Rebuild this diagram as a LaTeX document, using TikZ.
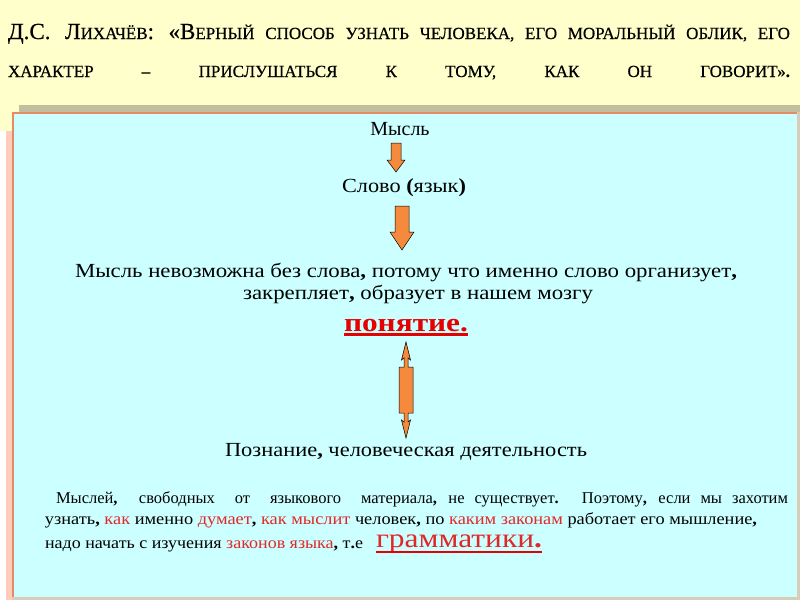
\documentclass[tikz,border=0pt]{standalone}
\usepackage{fontspec}
\setmainfont{Liberation Serif}
\newfontfamily\titlefont[FakeBold=0.5]{Liberation Serif}
\usepackage{graphicx}
\definecolor{ylw}{RGB}{255,255,204}
\definecolor{cyanbox}{RGB}{204,255,255}
\definecolor{graybar}{RGB}{192,192,160}
\definecolor{pinkstrip}{RGB}{255,204,187}
\definecolor{obord}{RGB}{230,140,100}
\definecolor{beige}{RGB}{215,205,185}
\definecolor{arr}{RGB}{245,138,60}
\definecolor{rd}{RGB}{230,0,0}
\definecolor{rd2}{RGB}{225,40,40}
\newcommand\bigc[1]{{\fontsize{23}{23}\selectfont #1}}
\newcommand\smc[1]{{\fontsize{17}{17}\selectfont #1}}
\newcommand\bc{\textbf{,}}
\newcommand\rt[1]{\textcolor{rd2}{#1}}
\begin{document}
\begin{tikzpicture}[x=1pt,y=-1pt,
  txt/.style={inner sep=0pt, outer sep=0pt, anchor=base west},
  ctr/.style={inner sep=0pt, outer sep=0pt, anchor=base},
  arrowshape/.style={fill=arr, draw=black, line width=0.5pt, line join=miter}]
\useasboundingbox (0,0) rectangle (800,600);
\fill[white] (0,0) rectangle (800,600);
\fill[ylw] (0,0) rectangle (800,131);
\fill[pinkstrip] (6,131) rectangle (12,600);
\fill[graybar] (19,105) rectangle (800,112);
\fill[beige] (12,112) rectangle (800,600);
\fill[cyanbox] (12,112) rectangle (797,597);
\draw[obord, line width=1.5pt] (12.75,597) -- (12.75,112.75) -- (797,112.75);
% title
\node[txt, font=\titlefont] (t1) at (8,39) {\makebox[782pt][s]{\bigc{Д.С. Л}\smc{ИХАЧЁВ}\bigc{: «В}\smc{ЕРНЫЙ СПОСОБ УЗНАТЬ ЧЕЛОВЕКА, ЕГО МОРАЛЬНЫЙ ОБЛИК, ЕГО}}};
\node[txt, font=\titlefont] (t2) at (8,77) {\makebox[782pt][s]{\smc{ХАРАКТЕР \textbf{–} ПРИСЛУШАТЬСЯ К ТОМУ, КАК ОН ГОВОРИТ»\textbf{.}}}};
% diagram
\node[ctr, font=\fontsize{20}{20}\selectfont] (mysl) at (400,135) {Мысль};
\node[txt, font=\fontsize{20}{20}\selectfont] (slovo) at (342,192) {\resizebox{124pt}{\height}{Слово \textbf{(}язык\textbf{)}}};
\node[txt, font=\fontsize{20}{20}\selectfont] (la) at (75,277) {\resizebox{662pt}{\height}{Мысль невозможна без слова\bc{} потому что именно слово организует\bc}};
\node[txt, font=\fontsize{20}{20}\selectfont] (lb) at (243,299) {\resizebox{350pt}{\height}{закрепляет\bc{} образует в нашем мозгу}};
\node[txt, font=\fontsize{26}{26}\selectfont\bfseries, text=rd] (pon) at (344,331) {\resizebox{124pt}{\height}{понятие.}};
\draw[rd, line width=2.5pt] ([yshift=-3.5pt]pon.base west) -- ([yshift=-3.5pt]pon.base east);
\node[txt, font=\fontsize{20}{20}\selectfont] (poz) at (225,456) {\resizebox{362pt}{\height}{Познание\bc{} человеческая деятельность}};
% arrows
\draw[arrowshape] (391,143) -- (401,143) -- (401,160) -- (405,160) -- (396,172) -- (387,160) -- (391,160) -- cycle;
\draw[arrowshape] (395,206) -- (409,206) -- (409,232) -- (414,232) -- (402,250) -- (390,232) -- (395,232) -- cycle;
\draw[arrowshape] (406,342) -- (410.5,360) -- (408,358) -- (408,367) -- (413,367) -- (413,413) -- (408,413) -- (408,422) -- (410.5,420) -- (406,438) -- (401.5,420) -- (404,422) -- (404,413) -- (399,413) -- (399,367) -- (404,367) -- (404,358) -- (401.5,360) -- cycle;
% bottom paragraph
\node[txt, font=\fontsize{16.5}{16.5}\selectfont] (p1) at (56,503) {\makebox[732pt][s]{Мыслей\bc{} \ свободных \ от \ языкового \ материала\bc{} не существует\textbf{.} Поэтому\bc{} если мы захотим}};
\node[txt, font=\fontsize{16.5}{16.5}\selectfont] (p2) at (45,524) {\resizebox{712pt}{\height}{узнать\bc{} \rt{как} именно \rt{думает}\bc{} \rt{как мыслит} человек\bc{} по \rt{каким законам} работает его мышление\bc}};
\node[txt, font=\fontsize{16.5}{16.5}\selectfont] (p3) at (45,548) {\resizebox{318pt}{\height}{надо начать с изучения \rt{законов языка}\bc{} т\textbf{.}е}};
\node[txt, font=\fontsize{27}{27}\selectfont, text=rd2] (gr) at (376,547.5) {\resizebox{166pt}{\height}{грамматики\textbf{.}}};
\draw[rd, line width=2.5pt] ([yshift=-4.5pt]gr.base west) -- ([yshift=-4.5pt]gr.base east);
\end{tikzpicture}
\end{document}
